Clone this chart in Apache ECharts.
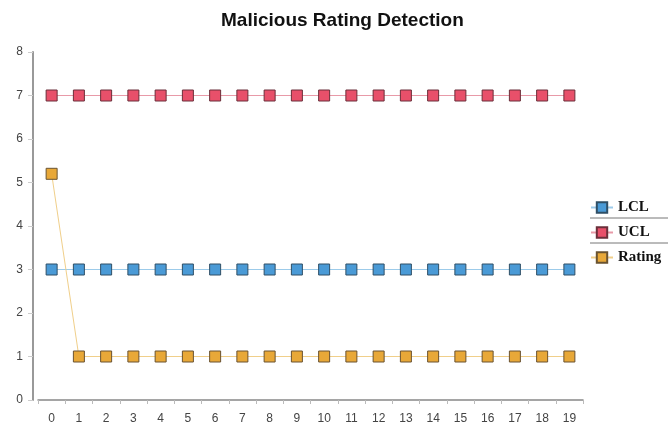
<!DOCTYPE html>
<html>
<head>
<meta charset="utf-8">
<script src="https://cdn.jsdelivr.net/npm/echarts@6/dist/echarts.min.js"></script>
<style>html,body{margin:0;padding:0;background:#fff}#c{width:672px;height:428px}</style>
</head>
<body>
<div id="c"></div>
<script>
var categories = ['0','1','2','3','4','5','6','7','8','9','10','11','12','13','14','15','16','17','18','19'];
var lcl = [3,3,3,3,3,3,3,3,3,3,3,3,3,3,3,3,3,3,3,3];
var ucl = [7,7,7,7,7,7,7,7,7,7,7,7,7,7,7,7,7,7,7,7];
var rating = [5.2,1,1,1,1,1,1,1,1,1,1,1,1,1,1,1,1,1,1,1];
var yTicks = [0,1,2,3,4,5,6,7,8];

var chart = echarts.init(document.getElementById('c'));
function mk(name, data, fill, line, border) {
  return {
    name: name, type: 'line', data: data,
    symbol: 'rect', symbolSize: 11,
    itemStyle: { color: fill, borderColor: border, borderWidth: 1 },
    lineStyle: { color: line, width: 1 },
    animation: false
  };
}
chart.setOption({
  backgroundColor: '#fff',
  title: {
    text: 'Malicious Rating Detection', left: 216, top: 6,
    textStyle: { fontFamily: 'Liberation Sans, Arial, sans-serif', fontWeight: 'bold', fontSize: 19, color: '#111' }
  },
  legend: {
    orient: 'vertical', left: 585, top: 195, itemGap: 10,
    itemWidth: 22, itemHeight: 13,
    data: ['LCL','UCL','Rating'],
    textStyle: { fontFamily: 'Liberation Serif, Times New Roman, serif', fontWeight: 'bold', fontSize: 15, color: '#111' }
  },
  graphic: [
    { type: 'line', shape: { x1: 590, y1: 218, x2: 668, y2: 218 }, style: { stroke: '#777', lineWidth: 1 } },
    { type: 'line', shape: { x1: 590, y1: 243, x2: 668, y2: 243 }, style: { stroke: '#777', lineWidth: 1 } }
  ],
  grid: { left: 38, right: 89, top: 52, bottom: 28 },
  xAxis: {
    type: 'category', data: categories, boundaryGap: true, offset: 7,
    axisLine: { lineStyle: { color: '#888', width: 1.5 } },
    axisTick: { show: true, length: 4, lineStyle: { color: '#bbb' } },
    axisLabel: { color: '#444', fontFamily: 'Liberation Sans, Arial, sans-serif', fontSize: 12, margin: 6 }
  },
  yAxis: {
    type: 'value', min: 0, max: 8, interval: 1, offset: 5,
    axisLine: { show: true, lineStyle: { color: '#999', width: 2 } },
    axisTick: { show: true, length: 5, lineStyle: { color: '#ccc' } },
    splitLine: { show: false },
    axisLabel: { color: '#444', fontFamily: 'Liberation Sans, Arial, sans-serif', fontSize: 12, margin: 10,
      formatter: function(v){ return yTicks.indexOf(v) >= 0 ? String(v) : ''; } }
  },
  series: [
    mk('LCL', lcl, '#4a9ad6', '#9ccbea', '#2f4f66'),
    mk('UCL', ucl, '#e8506a', '#e89aa8', '#6a2f3a'),
    mk('Rating', rating, '#e8a838', '#f0cf8a', '#6a5330')
  ]
});
</script>
</body>
</html>
